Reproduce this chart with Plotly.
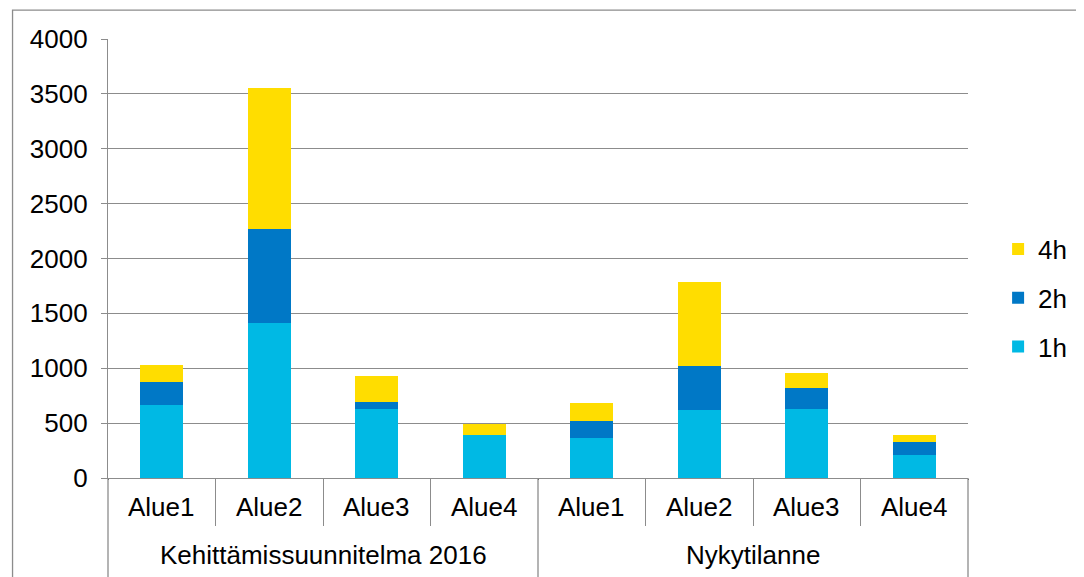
import plotly.graph_objects as go

groups = ["Kehittämissuunnitelma 2016"] * 4 + ["Nykytilanne"] * 4
areas = ["Alue1", "Alue2", "Alue3", "Alue4"] * 2
group_names = ["Kehittämissuunnitelma 2016", "Nykytilanne"]

h1 = [668, 1415, 629, 392, 362, 620, 629, 210]
h2 = [204, 854, 66, 0, 160, 400, 194, 118]
h4 = [158, 1285, 231, 97, 161, 766, 134, 64]

series = [("1h", h1, "#00B9E4"), ("2h", h2, "#0078C6"), ("4h", h4, "#FFDD00")]

fig = go.Figure()
for k, (name, vals, color) in enumerate(series):
    fig.add_bar(x=[groups, areas], y=vals, name=name, legendgroup=name, legendrank=len(series) - k,
                marker=dict(color=color, line=dict(width=0)))

grid = "#8c8c8c"
fs = 26
# page body has an 8px margin, so the figure is 8px smaller than the window
fig.update_layout(
    barmode="stack",
    bargap=0.6,
    width=1076,
    height=569,
    margin=dict(l=100, r=114, t=31, b=99),
    plot_bgcolor="white",
    paper_bgcolor="white",
    font=dict(family="Liberation Sans, Arial", size=fs, color="black"),
    legend=dict(traceorder="grouped", x=1.035, y=0.41, yanchor="middle",
                font=dict(size=fs), itemwidth=30, tracegroupgap=12),
    showlegend=True,
)
fig.update_yaxes(
    range=[0, 4000], dtick=500, showgrid=True, gridcolor=grid, gridwidth=1.3,
    showline=True, linecolor=grid, linewidth=1.3, ticks="outside", ticklen=6, tickcolor=grid,
    zeroline=False, tickfont=dict(size=fs), automargin=False, ticklabelstandoff=8,
)
fig.update_xaxes(
    type="multicategory", showline=True, linecolor=grid, linewidth=1.3,
    ticks="outside", tickson="boundaries", ticklen=47, tickcolor=grid, tickwidth=1.3,
    showticklabels=False, automargin=False,
)

n = len(areas)
for i, a in enumerate(areas):
    fig.add_annotation(text=a, xref="paper", yref="paper", x=(i + 0.5) / n, y=-0.066,
                       showarrow=False, font=dict(size=fs), xanchor="center", yanchor="middle")
ng = len(group_names)
for j, g in enumerate(group_names):
    fig.add_annotation(text=g, xref="paper", yref="paper", x=(j + 0.5) / ng, y=-0.175,
                       showarrow=False, font=dict(size=fs), xanchor="center", yanchor="middle")
for j in range(ng + 1):
    fig.add_shape(type="line", xref="paper", yref="paper", x0=j / ng, x1=j / ng, y0=0, y1=-0.25,
                  line=dict(color=grid, width=1.3))

fig.add_shape(type="rect", xref="paper", yref="paper", x0=-0.111, y0=-0.3, x1=1.2, y1=1.066,
              line=dict(color=grid, width=1.3), fillcolor="rgba(0,0,0,0)", layer="below")
fig.write_html("out.html")
